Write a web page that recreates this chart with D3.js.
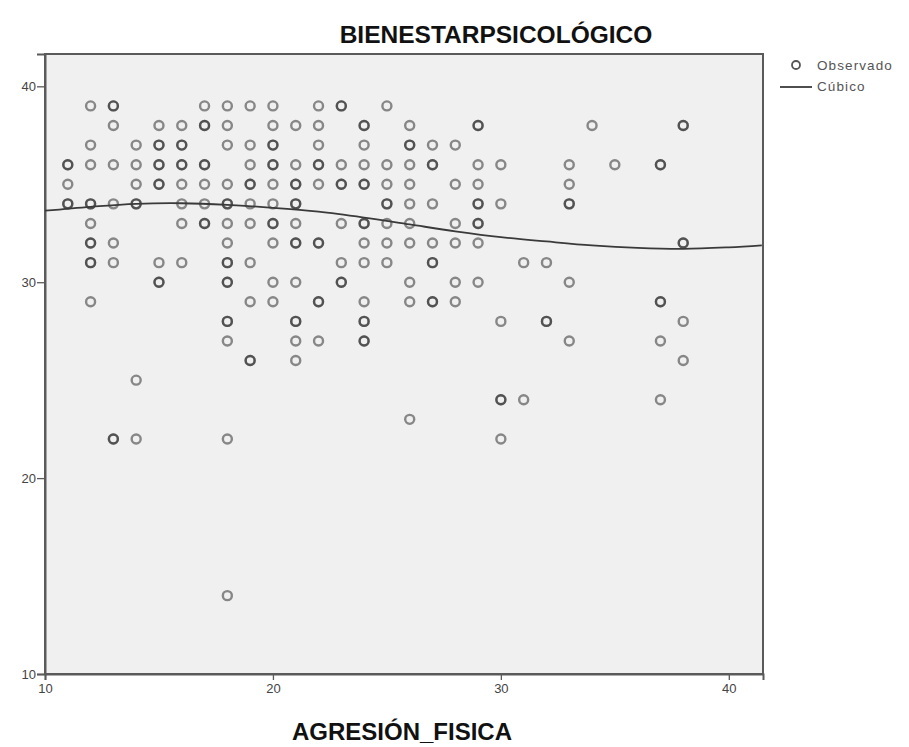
<!DOCTYPE html>
<html>
<head>
<meta charset="utf-8">
<script src="https://cdn.jsdelivr.net/npm/d3@7"></script>
<style>
  html, body { margin: 0; padding: 0; background: #ffffff; }
  svg { display: block; }
</style>
</head>
<body>
<svg id="chart" width="909" height="747"></svg>
<script>
// ---- Data ----
const title = "BIENESTARPSICOLÓGICO";
const xTitle = "AGRESIÓN_FISICA";
const legendLabels = ["Observado", "Cúbico"];
const xTicks = [10, 20, 30, 40];
const yTicks = [10, 20, 30, 40];

// Observed values: x = AGRESIÓN_FISICA, y = BIENESTARPSICOLÓGICO
// repeated entries are overlapping observations (drawn darker)
const agresion = [
  11,11,11,11,11,
  12,12,12,12,12,12,12,12,12,12,12,
  13,13,13,13,13,13,13,13,13,
  14,14,14,14,14,14,14,
  15,15,15,15,15,15,15,15,15,15,
  16,16,16,16,16,16,16,16,16,
  17,17,17,17,17,17,17,17,17,
  18,18,18,18,18,18,18,18,18,18,18,18,18,18,18,18,18,
  19,19,19,19,19,19,19,19,19,19,19,
  20,20,20,20,20,20,20,20,20,20,20,20,20,
  21,21,21,21,21,21,21,21,21,21,21,21,21,21,
  22,22,22,22,22,22,22,22,22,22,22,
  23,23,23,23,23,23,23,23,23,
  24,24,24,24,24,24,24,24,24,24,24,24,24,24,24,
  25,25,25,25,25,25,25,25,
  26,26,26,26,26,26,26,26,26,26,26,
  27,27,27,27,27,27,27,27,27,
  28,28,28,28,28,28,
  29,29,29,29,29,29,29,29,29,29,
  30,30,30,30,30,30,
  31,31,
  32,32,32,
  33,33,33,33,33,33,
  34,
  35,
  37,37,37,37,37,37,
  38,38,38,38,38,38
];
const bienestar = [
  36,36,35,34,34,
  39,37,36,34,34,33,32,32,31,31,29,
  39,39,38,36,34,32,31,22,22,
  37,36,35,34,34,25,22,
  38,37,37,36,36,35,35,31,30,30,
  38,37,37,36,36,35,34,33,31,
  39,38,38,36,36,35,34,33,33,
  39,38,37,35,34,34,33,32,31,31,30,30,28,28,27,22,14,
  39,37,36,35,35,34,33,31,29,26,26,
  39,38,37,37,36,36,35,34,33,33,32,30,29,
  38,36,35,35,34,34,33,32,32,30,28,28,27,26,
  39,38,37,36,36,35,32,32,29,29,27,
  39,39,36,35,35,33,31,30,30,
  38,38,37,36,35,35,33,33,32,31,29,28,28,27,27,
  39,36,35,34,34,33,32,31,
  38,37,37,36,35,34,33,32,30,29,23,
  37,36,36,34,32,31,31,29,29,
  37,35,33,32,30,29,
  38,38,36,35,34,34,33,33,32,30,
  36,34,28,24,24,22,
  31,24,
  31,28,28,
  36,35,34,34,30,27,
  38,
  36,
  36,36,29,29,27,24,
  38,38,32,32,28,26
];

// Cubic fit curve
const fitX = [10, 12, 14, 16, 18, 20, 22, 24, 26, 28, 30, 32, 34, 36, 38, 40, 41.45];
const fitY = [33.65, 33.85, 34.0, 34.03, 33.95, 33.8, 33.6, 33.3, 32.95, 32.6, 32.3, 32.08, 31.88, 31.75, 31.7, 31.78, 31.88];

// ---- Layout ----
const svg = d3.select("#chart");
const plot = { left: 45, right: 763, top: 54, bottom: 674 };
const x = d3.scaleLinear().domain([10, 41.5]).range([plot.left, plot.right]);
const y = d3.scaleLinear().domain([10, 41.65]).range([plot.bottom, plot.top]);
const fontAxis = "'Liberation Sans Narrow', 'Liberation Sans', Arial, sans-serif";

// Plot background
svg.append("rect")
  .attr("x", plot.left).attr("y", plot.top)
  .attr("width", plot.right - plot.left).attr("height", plot.bottom - plot.top)
  .attr("fill", "#f0f0f0")
  .attr("stroke", "#5a5a5a").attr("stroke-width", 2);

// Axes
const yAxis = d3.axisLeft(y).tickValues(yTicks).tickSize(8).tickPadding(1).tickFormat(d3.format("d"));
const gy = svg.append("g").attr("transform", `translate(${plot.left},0)`).call(yAxis);
const xAxis = d3.axisBottom(x).tickValues(xTicks).tickSize(6).tickPadding(4).tickFormat(d3.format("d"));
const gx = svg.append("g").attr("transform", `translate(0,${plot.bottom})`).call(xAxis);
[gx, gy].forEach(g => {
  g.select(".domain").attr("stroke", "#5a5a5a").attr("stroke-width", 2);
  g.selectAll(".tick line").attr("stroke", "#5a5a5a").attr("stroke-width", 1.3);
  g.selectAll(".tick text").attr("fill", "#444").attr("font-size", 13).attr("font-family", fontAxis);
});

// Points
svg.append("g")
  .selectAll("circle")
  .data(agresion.map((a, i) => ({ a, b: bienestar[i] })))
  .join("circle")
  .attr("cx", d => x(d.a))
  .attr("cy", d => y(d.b))
  .attr("r", 4.5)
  .attr("fill", "none")
  .attr("stroke", "#1e1e1e")
  .attr("stroke-opacity", 0.5)
  .attr("stroke-width", 2.4);

// Cubic fit line
const line = d3.line().x(d => x(d[0])).y(d => y(d[1])).curve(d3.curveCatmullRom);
svg.append("path")
  .datum(fitX.map((v, i) => [v, fitY[i]]))
  .attr("d", line)
  .attr("fill", "none")
  .attr("stroke", "#3a3a3a")
  .attr("stroke-width", 1.8);

// Title
svg.append("text")
  .attr("x", 496).attr("y", 43)
  .attr("text-anchor", "middle")
  .attr("font-family", fontAxis)
  .attr("font-weight", "bold")
  .attr("font-size", 24.5)
  .attr("fill", "#111")
  .text(title);

// X axis title
svg.append("text")
  .attr("x", 402).attr("y", 740)
  .attr("text-anchor", "middle")
  .attr("font-family", fontAxis)
  .attr("font-weight", "bold")
  .attr("font-size", 24)
  .attr("fill", "#111")
  .text(xTitle);

// Legend
const lg = svg.append("g");
lg.append("circle").attr("cx", 796).attr("cy", 65).attr("r", 4)
  .attr("fill", "none").attr("stroke", "#555").attr("stroke-width", 1.8);
lg.append("line").attr("x1", 780).attr("x2", 812).attr("y1", 87).attr("y2", 87)
  .attr("stroke", "#3a3a3a").attr("stroke-width", 1.8);
lg.selectAll("text.lab")
  .data(legendLabels)
  .join("text")
  .attr("class", "lab")
  .attr("x", 817)
  .attr("y", (d, i) => 70 + i * 21)
  .attr("font-family", fontAxis)
  .attr("font-size", 13.5)
  .attr("letter-spacing", 1.1)
  .attr("fill", "#555")
  .text(d => d);
</script>
</body>
</html>
